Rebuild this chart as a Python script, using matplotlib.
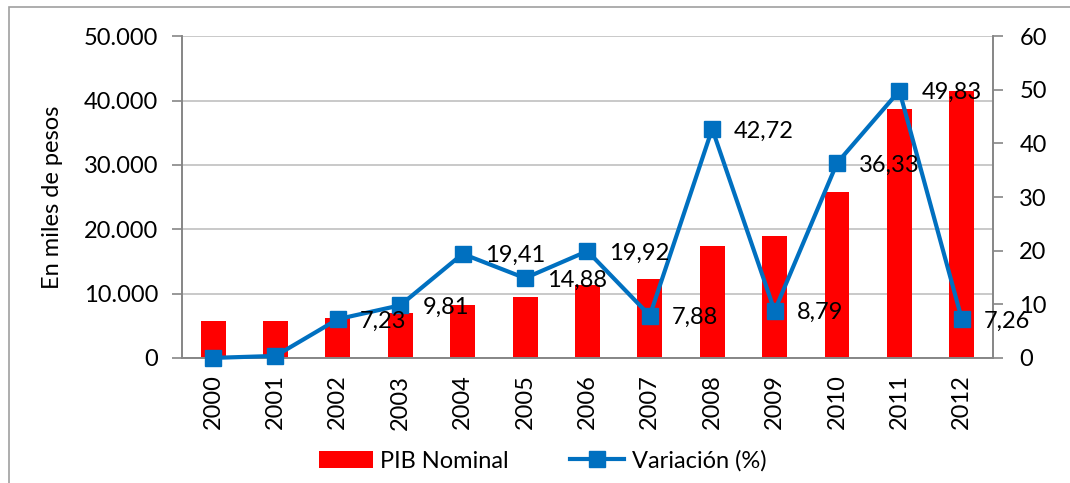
import numpy as np
import matplotlib.pyplot as plt
from matplotlib.patches import Rectangle

# Data
years = ['2000', '2001', '2002', '2003', '2004', '2005', '2006',
         '2007', '2008', '2009', '2010', '2011', '2012']
pib_nominal = [5790, 5800, 6260, 6940, 8230, 9520, 11340,
               12220, 17440, 18940, 25820, 38710, 41510]
variacion = [0.0, 0.37, 7.23, 9.81, 19.41, 14.88, 19.92,
             7.88, 42.72, 8.79, 36.33, 49.83, 7.26]
show_label = [False, False, True, True, True, True, True,
              True, True, True, True, True, True]

plt.rcParams['font.family'] = ['Lato', 'DejaVu Sans']
fs = 17
grey = '#868686'

fig = plt.figure(figsize=(10.7, 4.83), dpi=100)
ax = fig.add_axes([0.170, 0.259, 0.758, 0.666])
x = np.arange(len(years))

# bars on left axis
bars = ax.bar(x, pib_nominal, width=0.4, color='#FF0000', label='PIB Nominal', zorder=2)
ax.set_xlim(-0.5, len(years) - 0.5)
ax.set_ylim(0, 50000)
ax.set_yticks(np.arange(0, 50001, 10000))
ax.set_yticklabels([f'{v:,}'.replace(',', '.') for v in range(0, 50001, 10000)], fontsize=fs)
ax.set_xticks(x)
ax.set_xticklabels(years, rotation=90, fontsize=fs)
ax.tick_params(axis='x', length=0, pad=12)
ax.tick_params(axis='y', length=7, color=grey, width=1.2, pad=10)
ax.grid(axis='y', color='#C0C0C0', linewidth=1.2, zorder=0)
ax.set_axisbelow(True)
ax.set_ylabel('En miles de pesos', fontsize=fs, labelpad=15)
ax.spines['top'].set_visible(False)
for side in ['left', 'bottom', 'right']:
    ax.spines[side].set_color(grey)
    ax.spines[side].set_linewidth(1.2)

# line on right axis
ax2 = ax.twinx()
line, = ax2.plot(x, variacion, color='#0070C0', linewidth=3, marker='s',
                 markersize=11, label='Variación (%)', zorder=3, clip_on=False)
ax2.set_ylim(0, 60)
ax2.set_yticks(np.arange(0, 61, 10))
ax2.tick_params(axis='y', labelsize=fs, length=7, color=grey, width=1.2, pad=12)
ax2.spines['top'].set_visible(False)
for side in ['left', 'bottom', 'right']:
    ax2.spines[side].set_color(grey)
    ax2.spines[side].set_linewidth(1.2)

for xi, v, show in zip(x, variacion, show_label):
    if show:
        ax2.annotate(f'{v:.2f}'.replace('.', ','), (xi, v), xytext=(22, -2),
                     textcoords='offset pixels', ha='left', va='center',
                     fontsize=fs, zorder=4)

# legend
fig.legend(handles=[bars, line], loc='center', bbox_to_anchor=(0.507, 1 - 461 / 483),
           ncol=2, frameon=False, fontsize=fs, handlelength=2.3,
           handletextpad=0.3, columnspacing=2.6)

# chart border
fig.patches.append(Rectangle((9 / 1070, -0.1), 1.2, 1 - 7 / 483 + 0.1,
                             transform=fig.transFigure, fill=False,
                             edgecolor='#A0A0A0', linewidth=1.2))

fig.savefig('out.png', dpi=100)
